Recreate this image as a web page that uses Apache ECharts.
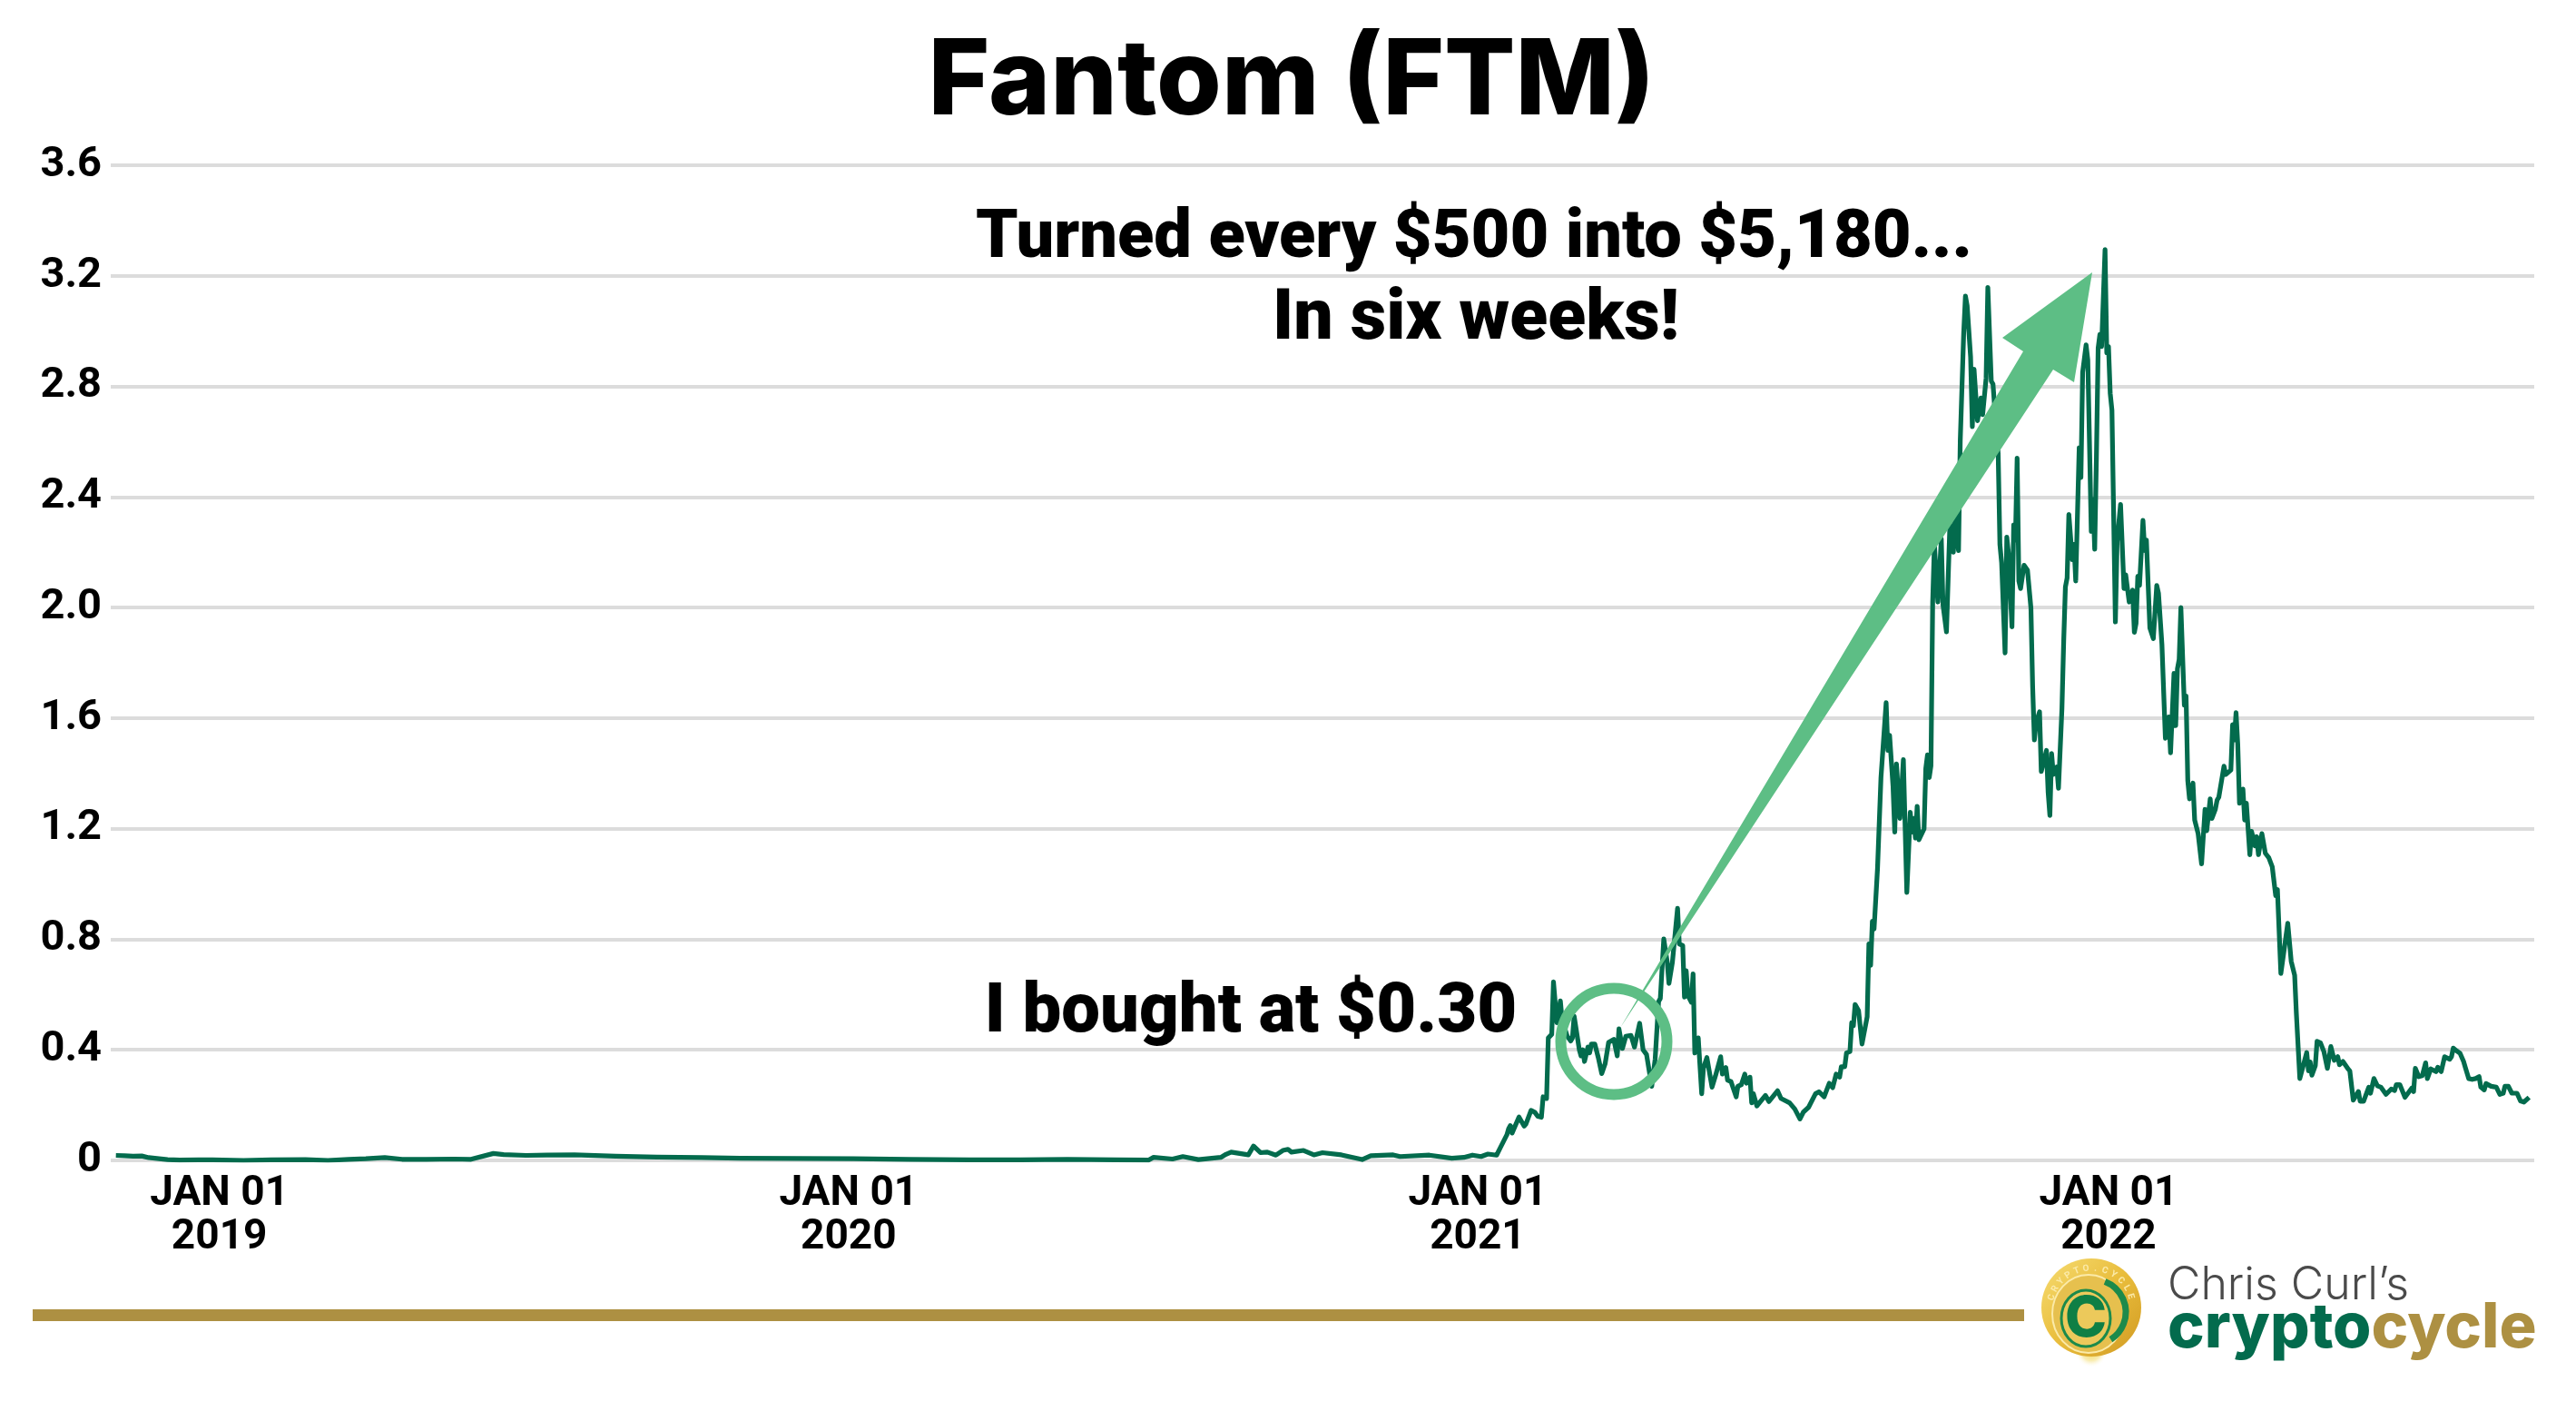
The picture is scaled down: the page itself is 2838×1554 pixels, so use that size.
<!DOCTYPE html>
<html>
<head>
<meta charset="utf-8">
<style>
  html, body { margin: 0; padding: 0; background: #fff; }
  #main { width: 2838px; height: 1554px; }
</style>
<script src="https://cdn.jsdelivr.net/npm/echarts@6/dist/echarts.min.js"></script>
</head>
<body>
<div id="main"></div>
<script>
const TITLE = 'Fantom (FTM)';

const yMax = 3.6;
const yStep = 0.4;
const xMin = -63;
const xMax = 1343;
const xTickDays = [0, 365, 730, 1096];
const xTickLabels = ['JAN 01\n2019', 'JAN 01\n2020', 'JAN 01\n2021', 'JAN 01\n2022'];

// days since Jan 1 2019, price in USD
const days = [
  -60, -55, -50, -45, -41, -35, -30, -23, -12, -4, 14, 30, 50, 63, 75, 85, 96, 106, 120, 136, 146, 159, 165, 178, 190, 206, 230, 254, 280, 302, 335, 368, 400, 435, 465, 492, 520, 539,
  542, 553, 559, 568, 581, 584, 587, 597, 600, 604, 608, 613, 617, 620, 622, 629, 635, 640, 651, 663, 668, 681, 685, 702,
  715, 722, 727, 732, 736, 741, 743, 744, 747, 748, 749, 750, 754, 757, 758, 761, 763, 765, 767, 768, 770, 771, 773, 774, 776, 778, 779, 782, 784, 785, 786, 789, 790, 791, 792, 794, 795, 796, 798, 800, 802, 804, 806, 809, 811, 812, 814, 816, 819, 821, 822, 824, 826, 828, 831, 833, 835, 836, 838, 840, 841, 843, 846, 847, 849, 850, 851, 852, 854, 855, 856, 858, 860, 861, 863, 866, 868, 871, 872, 874, 875, 877, 880, 881, 883, 885, 886, 888, 889, 890, 892, 897, 899, 904, 906, 911, 914, 915, 917, 919, 922, 926, 928, 931, 934, 936, 938, 940, 941, 943, 944, 946, 947, 948, 949, 951, 953, 956, 957, 958, 959, 960,
  962, 964, 965, 967, 968, 969, 971, 972, 973, 975, 977, 979, 981, 982, 983, 984, 985, 986, 989, 990, 991, 992, 993, 994,
  995, 997, 999, 1000, 1002, 1004, 1006, 1007, 1009, 1010, 1011, 1012, 1013, 1014, 1016, 1017, 1018, 1020, 1022, 1023, 1025, 1026, 1028, 1029, 1030, 1032, 1033, 1034, 1036, 1037, 1038, 1040, 1041, 1042, 1043, 1044, 1045, 1047, 1049, 1051,
  1052, 1053, 1054, 1056, 1057, 1058, 1060, 1061, 1062, 1063, 1064, 1066, 1067, 1069, 1070, 1071, 1072, 1073, 1075, 1076, 1077, 1079, 1080, 1081, 1083, 1084, 1086, 1087, 1088, 1089, 1090, 1091, 1092, 1094, 1095, 1096, 1097, 1098, 1100, 1101, 1103, 1105, 1106, 1108, 1110, 1111, 1112, 1113, 1114, 1116, 1117, 1118, 1120, 1122, 1124, 1125,
  1127, 1128, 1129, 1131, 1132, 1134, 1135, 1136, 1137, 1138, 1140, 1141, 1142, 1143, 1145, 1146, 1148, 1150, 1152, 1153, 1155, 1156, 1158, 1159, 1160, 1163, 1164, 1167, 1168, 1169, 1170, 1171, 1172, 1174, 1175, 1176, 1178, 1179, 1181, 1182, 1183, 1185, 1187, 1189, 1191, 1192, 1193, 1194,
  1196, 1200, 1202, 1204, 1205, 1206, 1207, 1208, 1211, 1212, 1213, 1214, 1216, 1217, 1219, 1221, 1223, 1225, 1227, 1229, 1230, 1232, 1235, 1236, 1238, 1241, 1242, 1244, 1247, 1248, 1250, 1251, 1252, 1254, 1257, 1260, 1262, 1263, 1265, 1268, 1272, 1273, 1274, 1276, 1278, 1280, 1281, 1283, 1286, 1287, 1289, 1291, 1294, 1295, 1296, 1298, 1300, 1302, 1303, 1305, 1307, 1309, 1311, 1312, 1314, 1315, 1318, 1321, 1323, 1325, 1326, 1328, 1330, 1331, 1333, 1335, 1337, 1340
];
const prices = [
  .018, .017, .015, .016, .010, .006, .003, .001, .002, .002, .000, .002, .003, .000, .004, .006, .010, .004, .004, .005, .004, .025, .021, .018, .019, .020, .015, .012, .010, .008, .007, .006, .004, .002, .002, .004, .002, .001,
  .011, .005, .014, .003, .011, .022, .030, .020, .052, .028, .030, .019, .036, .040, .030, .036, .020, .028, .020, .003, .017, .020, .014, .019,
  .008, .011, .019, .014, .023, .019, .044, .049, .093, .115, .126, .099, .157, .124, .131, .181, .175, .159, .156, .230, .224, .443, .456, .646, .498, .577, .509, .449, .432, .443, .522, .400, .378, .400, .358, .410, .389, .421, .421, .372, .314, .350, .427, .438, .378, .476, .405, .449, .452, .410, .410, .496, .400, .383, .268, .367, .575, .586, .801, .717, .640, .717, .912, .783, .777, .591, .686, .597, .572, .675, .389, .443, .241, .334, .372, .265, .306, .375, .312, .336, .290, .285, .230, .268, .274, .312, .279, .301, .208, .241, .197, .235, .213, .252, .224, .208, .186, .183, .150, .175, .192, .241, .248, .230, .279, .263, .312, .301, .339, .339, .389, .394, .498, .487, .564, .542, .421, .520, .783, .706, .865, .837,
  1.056, 1.385, 1.385, 1.656, 1.483, 1.538, 1.352, 1.188, 1.434, 1.237, 1.450, .969, 1.259, 1.188, 1.237, 1.166, 1.281, 1.160, 1.199, 1.418, 1.467, 1.385, 1.428, 2.020,
  2.228, 2.020, 2.249, 2.009, 1.912, 2.304, 2.200, 2.326, 2.206, 2.605, 2.611, 2.994, 3.127, 3.092, 2.906, 2.654, 2.862, 2.676, 2.758, 2.698, 2.830, 3.158, 2.819, 2.808, 2.720, 2.556, 2.228, 2.162, 1.836, 2.255, 2.195, 1.930, 2.299, 2.244, 2.540, 2.096, 2.069, 2.153, 2.135, 1.998,
  1.713, 1.521, 1.582, 1.623, 1.407, 1.407, 1.483, 1.330, 1.248, 1.472, 1.396, 1.423, 1.346, 1.636, 1.877, 2.074, 2.107, 2.337, 2.173, 2.228, 2.096, 2.578, 2.470, 2.851, 2.950, 2.895, 2.276, 2.391, 2.211, 2.545, 2.939, 2.988, 2.944, 3.295, 2.922, 2.944, 2.775, 2.714, 1.948, 2.239, 2.373, 2.069, 2.118, 2.020, 2.063, 1.910, 1.943, 2.113, 2.080, 2.315, 2.206, 2.244, 1.926, 1.888, 2.080, 2.052,
  1.866, 1.866, 1.527, 1.604, 1.474, 1.762, 1.573, 1.779, 1.812, 2.000, 1.647, 1.680, 1.374, 1.308, 1.365, 1.231, 1.182, 1.073, 1.270, 1.193, 1.308, 1.237, 1.270, 1.303, 1.314, 1.426, 1.396, 1.412, 1.576, 1.521, 1.620, 1.505, 1.292, 1.343, 1.231, 1.292, 1.106, 1.190, 1.138, 1.171, 1.106, 1.182, 1.111, 1.095, 1.062, 1.062, .958, .980,
  .676, .858, .720, .670, .531, .531, .296, .291, .390, .324, .356, .308, .343, .431, .425, .393, .333, .412, .362, .375, .346, .358, .331, .324, .218, .249, .214, .214, .265, .243, .296, .296, .270, .265, .239, .258, .253, .274, .274, .228, .262, .249, .333, .303, .306, .353, .296, .331, .321, .337, .321, .375, .366, .375, .406, .396, .387, .358, .337, .296, .293, .296, .303, .265, .255, .278, .268, .265, .239, .243, .268, .268, .243, .237, .243, .215, .211, .228
];

const GREEN = '#036b4d';
const ARROW = '#5dbe85';
const GOLD = '#ad9042';
const BOLD = 'Roboto, sans-serif';
const HEAVY = 'Inter, sans-serif';

const seriesData = days.map((d, i) => [d, prices[i]]);

// little letters around the coin rim
const coinWord = 'CRYPTO.CYCLE';
const coinLetters = coinWord.split('').map((ch, i) => {
  const a = (-165 + i * 13.5) * Math.PI / 180;
  return {
    type: 'text', z: 103,
    x: 2304 + 45 * Math.cos(a), y: 1440 + 43 * Math.sin(a),
    rotation: -(a + Math.PI / 2),
    style: { text: ch, font: '700 10px ' + BOLD, fill: '#fbeaa8', align: 'center', verticalAlign: 'middle' }
  };
});

const chart = echarts.init(document.getElementById('main'));
chart.setOption({
  animation: false,
  backgroundColor: '#fff',
  title: {
    text: TITLE,
    left: 1418,
    top: 28,
    textAlign: 'center',
    textStyle: { fontFamily: HEAVY, fontWeight: 800, fontSize: 116, color: '#000' }
  },
  grid: { left: 122, right: 46, top: 182, bottom: 276, containLabel: false },
  xAxis: {
    type: 'value',
    min: xMin,
    max: xMax,
    axisLine: { show: false },
    axisTick: { show: false },
    splitLine: { show: false },
    axisLabel: {
      customValues: xTickDays,
      formatter: (v) => xTickLabels[xTickDays.indexOf(v)],
      fontFamily: BOLD, fontWeight: 700, fontSize: 46, lineHeight: 48, color: '#000', margin: 13, hideOverlap: false
    }
  },
  yAxis: {
    type: 'value',
    min: 0,
    max: yMax,
    interval: yStep,
    axisLine: { show: false },
    axisTick: { show: false },
    splitLine: { lineStyle: { color: '#dcdcdc', width: 4 } },
    axisLabel: {
      formatter: (v) => v === 0 ? '0' : v.toFixed(1),
      fontFamily: BOLD, fontWeight: 700, fontSize: 47, color: '#000', margin: 10, padding: [6, 0, 0, 0]
    }
  },
  series: [{
    type: 'line',
    data: seriesData,
    showSymbol: false,
    sampling: false,
    lineStyle: { color: GREEN, width: 5.2, join: 'round' },
    z: 5
  }],
  graphic: [
    // arrow from the buy point up to the peak
    { type: 'polygon', z: 100,
      shape: { points: [[1785, 1132], [2229, 387], [2206, 372], [2305, 300], [2285, 421], [2262, 407]] },
      style: { fill: ARROW } },
    { type: 'circle', z: 100,
      shape: { cx: 1778, cy: 1147, r: 58.5 },
      style: { fill: 'none', stroke: ARROW, lineWidth: 12 } },
    { type: 'text', z: 101, x: 1624, y: 301,
      style: { text: 'Turned every $500 into $5,180...', font: '900 74px ' + BOLD, fill: '#000', align: 'center', verticalAlign: 'bottom' } },
    { type: 'text', z: 101, x: 1626, y: 392,
      style: { text: 'In six weeks!', font: '900 77px ' + BOLD, fill: '#000', align: 'center', verticalAlign: 'bottom' } },
    { type: 'text', z: 101, x: 1378, y: 1155,
      style: { text: 'I bought at $0.30', font: '900 76px ' + BOLD, fill: '#000', align: 'center', verticalAlign: 'bottom' } },
    // footer rule
    { type: 'rect', z: 100, shape: { x: 36, y: 1442, width: 2194, height: 13 }, style: { fill: GOLD } },
    // coin
    { type: 'ellipse', z: 100, shape: { cx: 2304, cy: 1488, rx: 85, ry: 18 },
      style: { fill: new echarts.graphic.RadialGradient(0.5, 0.5, 0.5, [
        { offset: 0, color: 'rgba(240,210,70,1)' }, { offset: 0.6, color: 'rgba(245,225,130,0.6)' }, { offset: 1, color: 'rgba(255,255,255,0)' }]) } },
    { type: 'ellipse', z: 101, shape: { cx: 2304, cy: 1440, rx: 55, ry: 54 },
      style: { fill: new echarts.graphic.LinearGradient(0, 0, 1, 1, [
        { offset: 0, color: '#f6dc72' }, { offset: 0.5, color: '#e9bd3c' }, { offset: 1, color: '#d19a22' }]) } },
    { type: 'ellipse', z: 102, shape: { cx: 2301, cy: 1447, rx: 40, ry: 43 },
      style: { fill: '#e6c04e', stroke: '#fbeaa8', lineWidth: 2 } },
    { type: 'arc', z: 102, shape: { cx: 2306, cy: 1445, r: 36, startAngle: -1.2, endAngle: 1.0 },
      style: { stroke: '#1c8a4b', fill: 'none', lineWidth: 7 } },
    { type: 'ellipse', z: 103, shape: { cx: 2298, cy: 1452, rx: 27, ry: 31 },
      style: { fill: '#ecc95b', stroke: '#1c8a4b', lineWidth: 3 } },
    { type: 'text', z: 104, x: 2298, y: 1453,
      style: { text: 'C', font: '800 62px ' + HEAVY, fill: '#0f7f45', align: 'center', verticalAlign: 'middle' } },
    ...coinLetters,
    // wordmark
    { type: 'text', z: 101, x: 2388, y: 1441,
      style: { text: 'Chris Curl\u2019s', font: '300 50px Inter, sans-serif', fill: '#4a4a4a', align: 'left', verticalAlign: 'bottom' } },
    { type: 'text', z: 101, x: 2388, y: 1498,
      style: {
        text: '{a|crypto}{b|cycle}',
        align: 'left',
        verticalAlign: 'bottom',
        rich: {
          a: { font: '800 68.5px ' + HEAVY, fill: GREEN },
          b: { font: '800 68.5px ' + HEAVY, fill: GOLD }
        }
      } }
  ]
});
</script>
</body>
</html>
